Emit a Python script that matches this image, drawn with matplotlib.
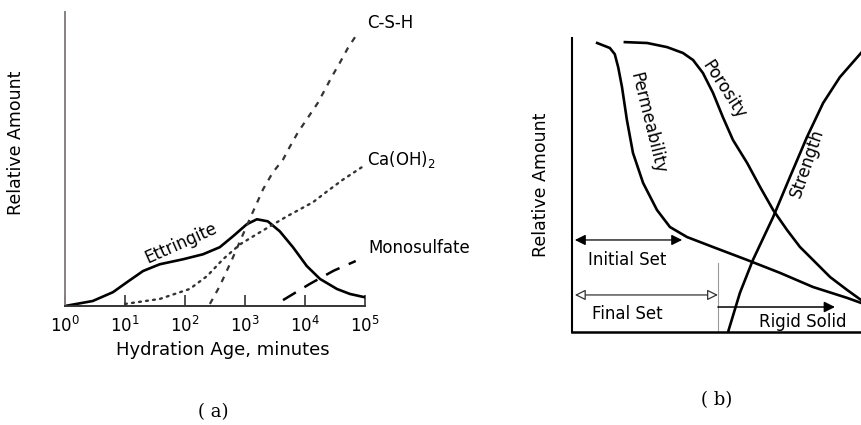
import matplotlib
matplotlib.use("Agg")
from matplotlib import pyplot as plt
from matplotlib.ticker import FixedLocator, FixedFormatter

# (a) hydration products vs age (minutes, relative amount 0..1)
ett_age = [1, 2.9, 6.3, 10.8, 20, 38, 93, 200, 380, 630, 1070, 1580, 2400,
           3800, 6300, 10700, 17800, 34000, 56000, 93000, 100000]
ett_amt = [0.0, 0.017, 0.047, 0.081, 0.119, 0.142, 0.159, 0.176, 0.2, 0.237,
           0.278, 0.295, 0.288, 0.254, 0.2, 0.136, 0.092, 0.058, 0.041, 0.031, 0.03]

ch_age = [10, 38, 120, 234, 430, 830, 1780, 5000, 13600, 23400, 43000, 93000]
ch_amt = [0.007, 0.024, 0.058, 0.102, 0.159, 0.21, 0.251, 0.305, 0.353, 0.39,
          0.43, 0.475]

csh_age = [260, 380, 610, 1300, 2000, 2900, 4300, 5600, 7600, 11200, 16500,
           21500, 28000, 38000, 52000, 76000]
csh_amt = [0.007, 0.068, 0.159, 0.312, 0.397, 0.454, 0.498, 0.542, 0.59,
           0.641, 0.692, 0.736, 0.78, 0.827, 0.878, 0.929]

mono_age = [4300, 12000, 30000, 70000]
mono_amt = [0.02, 0.075, 0.12, 0.153]

age_ticks = [1, 10, 100, 1000, 10000, 100000]
age_labels = ["$10^{0}$", "$10^{1}$", "$10^{2}$", "$10^{3}$", "$10^{4}$", "$10^{5}$"]

# (b) setting / hardening properties (relative time 0..1, relative amount 0..1)
perm_t = [0.087, 0.131, 0.148, 0.16, 0.173, 0.19, 0.211, 0.246, 0.294, 0.339,
          0.398, 0.488, 0.606, 0.72, 0.834, 0.952, 1.0]
perm_v = [0.983, 0.966, 0.945, 0.9, 0.833, 0.721, 0.609, 0.507, 0.415, 0.357,
          0.323, 0.289, 0.245, 0.201, 0.153, 0.116, 0.099]

poro_t = [0.183, 0.26, 0.329, 0.384, 0.419, 0.453, 0.488, 0.522, 0.557, 0.606,
          0.651, 0.696, 0.744, 0.789, 0.834, 0.893, 0.952, 1.0]
poro_v = [0.986, 0.983, 0.969, 0.949, 0.925, 0.881, 0.813, 0.731, 0.653, 0.575,
          0.493, 0.415, 0.347, 0.289, 0.245, 0.187, 0.143, 0.109]

str_t = [0.54, 0.581, 0.626, 0.696, 0.754, 0.813, 0.869, 0.927, 1.0]
str_v = [0.0, 0.133, 0.245, 0.391, 0.527, 0.663, 0.779, 0.867, 0.949]

initial_set = (0.01, 0.381)
final_set = (0.01, 0.505)
rigid_solid = (0.505, 0.91)

plt.rcParams["font.family"] = ["DejaVu Sans"]

fig = plt.figure(figsize=(8.61, 4.25), dpi=100)

# ---------- panel (a) ----------
ax = fig.add_axes([65 / 861, 119 / 425, 300 / 861, 294 / 425])
ax.set_xscale("log")
ax.set_xlim(1, 1e5)
ax.set_ylim(0, 1)

ax.plot(ett_age, ett_amt, color="black", lw=1.9, solid_joinstyle="round")
ax.plot(ch_age, ch_amt, color="#333333", lw=1.7, linestyle=(0, (0.8, 2.2)),
        dash_capstyle="round", clip_on=False)
ax.plot(csh_age, csh_amt, color="#333333", lw=1.6, linestyle=(0, (2.6, 3.0)),
        clip_on=False)
ax.plot(mono_age, mono_amt, color="black", lw=1.8, linestyle=(0, (6, 4)),
        clip_on=False)

ax.text(1.1e5, 0.963, "C-S-H", fontsize=12, ha="left", va="center")
ax.text(1.1e5, 0.497, "Ca(OH)$_2$", fontsize=12, ha="left", va="center")
ax.text(1.15e5, 0.197, "Monosulfate", fontsize=12, ha="left", va="center")
ax.text(85, 0.215, "Ettringite", fontsize=12, ha="center", va="center",
        rotation=24)

for side in ("top", "right"):
    ax.spines[side].set_visible(False)
ax.spines["left"].set_color("#8a8080")
ax.spines["left"].set_linewidth(1.4)
ax.spines["bottom"].set_color("#333333")
ax.spines["bottom"].set_linewidth(1.4)
ax.xaxis.set_major_locator(FixedLocator(age_ticks))
ax.xaxis.set_major_formatter(FixedFormatter(age_labels))
ax.xaxis.set_minor_locator(FixedLocator([]))
ax.tick_params(axis="x", direction="in", length=8, width=1.2, color="#333333",
               labelsize=12, pad=7)
ax.set_yticks([])
ax.set_xlabel("Hydration Age, minutes", fontsize=13)
ax.xaxis.set_label_coords(0.527, -0.12)
ax.set_ylabel("Relative Amount", fontsize=12.5)
ax.yaxis.set_label_coords(-0.133, 0.555)

# ---------- panel (b) ----------
bx = fig.add_axes([572 / 861, 93 / 425, 289 / 861, 294 / 425])
bx.set_xlim(0, 1)
bx.set_ylim(0, 1)

bx.plot(perm_t, perm_v, color="black", lw=1.9, solid_joinstyle="round")
bx.plot(poro_t, poro_v, color="black", lw=1.9, solid_joinstyle="round")
bx.plot(str_t, str_v, color="black", lw=1.9, solid_joinstyle="round")

bx.text(0.263, 0.711, "Permeability", fontsize=12, rotation=-76,
        ha="center", va="center")
bx.text(0.525, 0.823, "Porosity", fontsize=12, rotation=-57,
        ha="center", va="center")
bx.text(0.815, 0.575, "Strength", fontsize=12, rotation=71,
        ha="center", va="center")

bx.annotate("", xy=(initial_set[1], 0.313), xytext=(initial_set[0], 0.313),
            arrowprops=dict(arrowstyle="<|-|>", color="black", lw=0.9,
                            mutation_scale=16, shrinkA=0, shrinkB=0))
bx.text(0.19, 0.245, "Initial Set", fontsize=12, ha="center", va="center")

bx.annotate("", xy=(final_set[1], 0.126), xytext=(final_set[0], 0.126),
            arrowprops=dict(arrowstyle="<|-|>", facecolor="white",
                            edgecolor="#333333", lw=0.9, mutation_scale=16,
                            shrinkA=0, shrinkB=0))
bx.text(0.19, 0.062, "Final Set", fontsize=12, ha="center", va="center")

bx.plot([final_set[1], final_set[1]], [0, 0.235], color="#999999", lw=0.8)
bx.annotate("", xy=(rigid_solid[1], 0.085), xytext=(rigid_solid[0], 0.085),
            arrowprops=dict(arrowstyle="-|>", color="black", lw=1.1,
                            mutation_scale=16, shrinkA=0, shrinkB=0))
bx.text(0.8, 0.034, "Rigid Solid", fontsize=12, ha="center", va="center")

for side in ("top", "right"):
    bx.spines[side].set_visible(False)
bx.spines["left"].set_linewidth(1.5)
bx.spines["bottom"].set_linewidth(1.8)
bx.set_xticks([])
bx.set_yticks([])
bx.set_ylabel("Relative Amount", fontsize=12.5)
bx.yaxis.set_label_coords(-0.075, 0.5)

fig.text(213 / 861, 1 - 412 / 425, "( a)", fontsize=13, family="DejaVu Serif",
         ha="center", va="center")
fig.text(717 / 861, 1 - 400 / 425, "( b)", fontsize=13, family="DejaVu Serif",
         ha="center", va="center")

fig.savefig("out.png", dpi=100)
